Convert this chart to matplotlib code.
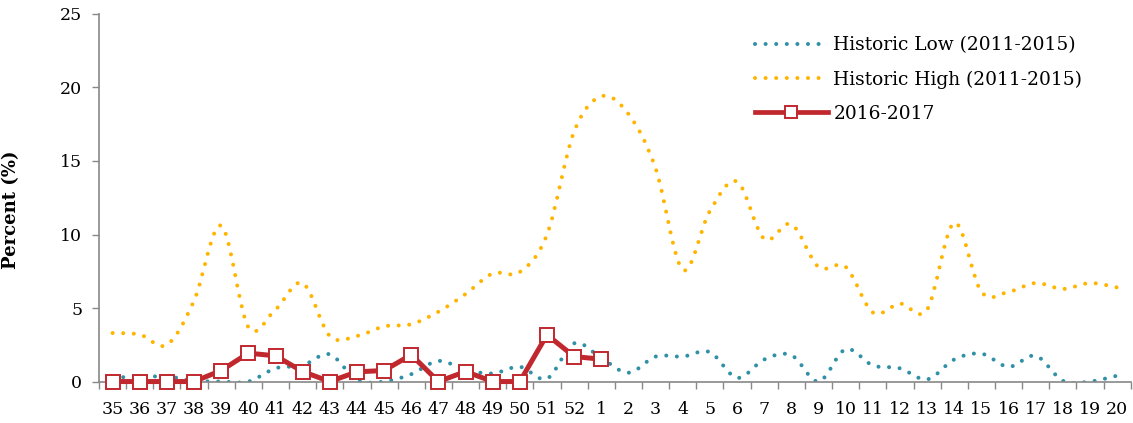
import matplotlib
matplotlib.use("Agg")
import matplotlib.pyplot as plt
from matplotlib.path import Path
from matplotlib.patches import PathPatch
from matplotlib.lines import Line2D
import numpy as np

weeks = ["35", "36", "37", "38", "39", "40", "41", "42", "43", "44", "45", "46", "47", "48",
         "49", "50", "51", "52", "1", "2", "3", "4", "5", "6", "7", "8", "9", "10", "11",
         "12", "13", "14", "15", "16", "17", "18", "19", "20"]

historic_low = [0.3, 0.3, 0.35, 0.05, 0.0, 0.0, 0.9, 1.1, 1.85, 0.1, 0.0, 0.5, 1.4, 0.8,
                0.55, 1.0, 0.2, 2.6, 1.6, 0.6, 1.7, 1.7, 2.0, 0.25, 1.5, 1.8, 0.0, 2.2,
                1.1, 0.9, 0.15, 1.5, 1.9, 1.0, 1.75, 0.05, 0.0, 0.4]

historic_high = [3.3, 3.2, 2.5, 5.5, 10.6, 3.7, 4.9, 6.7, 3.1, 3.1, 3.75, 3.9, 4.75, 5.95,
                 7.35, 7.45, 10.0, 17.0, 19.4, 18.2, 14.5, 7.6, 11.6, 13.6, 9.7, 10.7,
                 7.8, 7.8, 4.7, 5.3, 4.9, 10.8, 6.1, 6.1, 6.7, 6.3, 6.7, 6.4]

season_2016 = [0, 0, 0, 0, 0.75, 1.93, 1.75, 0.68, 0, 0.66, 0.75, 1.82, 0, 0.68, 0, 0,
               3.18, 1.7, 1.52]

legend_labels = ["Historic Low (2011-2015)", "Historic High (2011-2015)", "2016-2017"]

TEAL = "#2F90A6"
GOLD = "#FFB400"
RED = "#C0282D"
FONT = "DejaVu Serif"

plt.rcParams["font.family"] = [FONT]

fig = plt.figure(figsize=(11.33, 4.23), dpi=100)
ax = fig.add_axes([0.0874, 0.098, 0.9106, 0.869])


def smooth_path(xs, ys):
    pts = np.column_stack([xs, ys]).astype(float)
    n = len(pts)
    verts = [pts[0]]
    codes = [Path.MOVETO]
    for i in range(n - 1):
        p0 = pts[i - 1] if i > 0 else pts[i]
        p1 = pts[i]
        p2 = pts[i + 1]
        p3 = pts[i + 2] if i + 2 < n else pts[i + 1]
        c1 = p1 + (p2 - p0) / 6.0
        c2 = p2 - (p3 - p1) / 6.0
        verts += [c1, c2, p2]
        codes += [Path.CURVE4] * 3
    return Path(verts, codes)


DOT_LW = 2.9
DOT_LS = (0, (0.01, 2.62))

x_all = np.arange(len(weeks))
for vals, col in [(historic_low, TEAL), (historic_high, GOLD)]:
    patch = PathPatch(smooth_path(x_all, vals), fill=False, edgecolor=col,
                      linewidth=DOT_LW, linestyle=DOT_LS, capstyle="round",
                      transform=ax.transData, zorder=2)
    ax.add_patch(patch)

x_s = np.arange(len(season_2016))
ax.plot(x_s, season_2016, color=RED, linewidth=3.6, marker="s", markersize=10,
        markerfacecolor="white", markeredgecolor=RED, markeredgewidth=1.4, zorder=4,
        clip_on=False)

ax.set_xlim(-0.5, len(weeks) - 0.5)
ax.set_ylim(0, 25)
ax.set_yticks([0, 5, 10, 15, 20, 25])
ax.set_xticks(x_all)
ax.set_xticklabels(weeks)
ax.set_xticks(np.arange(-0.5, len(weeks)), minor=True)
ax.tick_params(axis="x", which="major", length=0, pad=14, labelsize=12.5)
ax.tick_params(axis="x", which="minor", length=5, color="#888888", width=1)
ax.tick_params(axis="y", which="major", length=5, color="#888888", width=1, pad=7,
               labelsize=12.5)

for side in ["top", "right"]:
    ax.spines[side].set_visible(False)
for side in ["left", "bottom"]:
    ax.spines[side].set_color("#888888")
    ax.spines[side].set_linewidth(1.2)

ax.set_ylabel("Percent (%)", fontsize=13, fontweight="bold")
ax.yaxis.set_label_coords(-0.0766, 0.467)

handles = [
    Line2D([], [], color=TEAL, linewidth=DOT_LW, linestyle=DOT_LS, dash_capstyle="round"),
    Line2D([], [], color=GOLD, linewidth=DOT_LW, linestyle=DOT_LS, dash_capstyle="round"),
    Line2D([], [], color=RED, linewidth=3.4, marker="s", markersize=8,
           markerfacecolor="white", markeredgecolor=RED, markeredgewidth=1.4),
]
ax.legend(handles, legend_labels, loc="upper left", bbox_to_anchor=(0.636, 0.939),
          frameon=False, borderaxespad=0, borderpad=0,
          fontsize=13.4, handlelength=3.9, handletextpad=0.3, labelspacing=0.86)

fig.savefig("out.png", dpi=100)
